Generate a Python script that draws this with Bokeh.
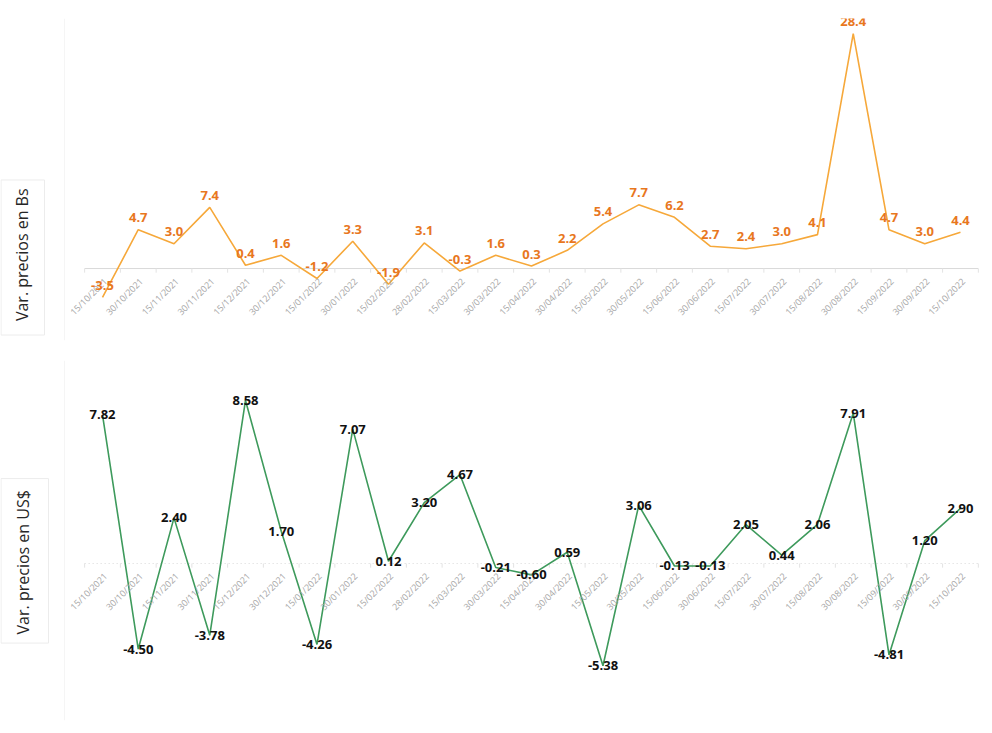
import math
from bokeh.plotting import figure
from bokeh.layouts import column, row
from bokeh.models import Range1d, ColumnDataSource, Span
from bokeh.core.properties import value
from bokeh.embed import file_html
from bokeh.resources import INLINE

dates = ["15/10/2021", "30/10/2021", "15/11/2021", "30/11/2021", "15/12/2021",
         "30/12/2021", "15/01/2022", "30/01/2022", "15/02/2022", "28/02/2022",
         "15/03/2022", "30/03/2022", "15/04/2022", "30/04/2022", "15/05/2022",
         "30/05/2022", "15/06/2022", "30/06/2022", "15/07/2022", "30/07/2022",
         "15/08/2022", "30/08/2022", "15/09/2022", "30/09/2022", "15/10/2022"]
var_bs = [-3.5, 4.7, 3.0, 7.4, 0.4, 1.6, -1.2, 3.3, -1.9, 3.1, -0.3, 1.6, 0.3,
          2.2, 5.4, 7.7, 6.2, 2.7, 2.4, 3.0, 4.1, 28.4, 4.7, 3.0, 4.4]
var_usd = [7.82, -4.50, 2.40, -3.78, 8.58, 1.70, -4.26, 7.07, 0.12, 3.20, 4.67,
           -0.21, -0.60, 0.59, -5.38, 3.06, -0.13, -0.13, 2.05, 0.44, 2.06, 7.91,
           -4.81, 1.20, 2.90]
label_bs = "Var. precios en Bs"
label_usd = "Var. precios en US$"

FONT = "Open Sans"
LW = 64
W = 920


def make_row(vals, ylo, yhi, h, bt, bb, line_color, lab_color, lab_fmt, lab_dy,
             zero_dash, ylabel, lab_box, tick_len):
    n = len(vals)
    idx = list(range(n))
    p = figure(width=W, height=h, output_backend="svg", toolbar_location=None,
               x_range=Range1d(-1.063, 24.56), y_range=Range1d(ylo, yhi),
               min_border_left=0, min_border_right=4, min_border_top=bt,
               min_border_bottom=bb)
    p.xaxis.visible = False
    p.yaxis.visible = False
    p.xgrid.visible = False
    p.ygrid.visible = False
    p.outline_line_color = None

    p.add_layout(Span(location=-1.063, dimension="height",
                      line_color="#ececec", line_width=1))

    # zero axis line
    p.segment(x0=[-0.5], y0=[0], x1=[n - 0.5], y1=[0],
              line_color="#d9d9d9", line_width=1, line_dash=zero_dash)
    bounds = [i - 0.5 for i in range(n + 1)]
    p.segment(x0=bounds, y0=[0] * len(bounds), x1=bounds,
              y1=[-tick_len] * len(bounds), line_color="#e3e3e3", line_width=1)

    src = ColumnDataSource(dict(x=idx, y=vals,
                                lab=[lab_fmt.format(v) for v in vals],
                                d=dates, z=[0] * n))
    p.line("x", "y", source=src, line_color=line_color, line_width=1.6)

    # date labels along the zero line
    p.text(x="x", y="z", text="d", source=src, angle=math.pi / 4,
           text_align="right", text_baseline="middle", x_offset=3, y_offset=11,
           text_font=value(FONT), text_font_size="9px", text_color="#a6a6a6")

    # data labels
    p.text(x="x", y="y", text="lab", source=src, text_align="center",
           text_baseline="middle", y_offset=lab_dy, text_font=value(FONT),
           text_font_size="13px", text_font_style="bold", text_color=lab_color)

    # y label panel (pixel-like coordinates, y downwards)
    q = figure(width=LW, height=h, output_backend="svg", toolbar_location=None,
               x_range=Range1d(0, LW), y_range=Range1d(h, 0),
               min_border=0)
    q.axis.visible = False
    q.grid.visible = False
    q.outline_line_color = None
    bl, br, btop, bbot, tx, ty = lab_box
    q.quad(left=[bl], right=[br], top=[btop], bottom=[bbot],
           fill_color=None, line_color="#ececec", line_width=1)
    q.text(x=[tx], y=[ty], text=[ylabel], angle=math.pi / 2,
           text_align="center", text_baseline="middle",
           text_font=value(FONT), text_font_size="16px", text_color="#262626")
    return row(q, p, spacing=0)


top = make_row(var_bs, -8.70, 30.23, 353, 18, 13, "#F6A83A", "#E8771E",
               "{:.1f}", -12, "solid", label_bs,
               (0.5, 44, 177, 347, 21, 259), 0.5)
bottom = make_row(var_usd, -8.26, 10.68, 372, 7, 5, "#3E9A5C", "#111111",
                  "{:.2f}", 0, "1 3", label_usd,
                  (0.5, 48, 122, 292, 22, 208.5), 0.22)

layout = column(top, bottom, spacing=0)
open("out.html", "w").write(file_html(layout, INLINE))
